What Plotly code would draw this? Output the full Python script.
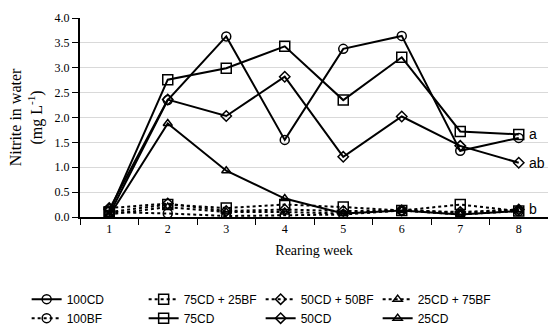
import plotly.graph_objects as go

weeks = ["1", "2", "3", "4", "5", "6", "7", "8"]

cd100 = [0.05, 2.35, 3.63, 1.55, 3.38, 3.64, 1.33, 1.59]
cd75bf25 = [0.10, 0.25, 0.18, 0.25, 0.20, 0.13, 0.25, 0.12]
cd50bf50 = [0.18, 0.27, 0.12, 0.15, 0.12, 0.13, 0.10, 0.15]
cd25bf75 = [0.05, 0.20, 0.10, 0.10, 0.07, 0.15, 0.08, 0.15]
bf100 = [0.10, 0.07, 0.02, 0.03, 0.05, 0.13, 0.05, 0.12]
cd75 = [0.10, 2.76, 2.99, 3.43, 2.35, 3.21, 1.72, 1.66]
cd50 = [0.15, 2.36, 2.03, 2.82, 1.21, 2.02, 1.43, 1.09]
cd25 = [0.02, 1.88, 0.93, 0.37, 0.07, 0.13, 0.05, 0.12]

series = [
    ("100CD", cd100, "solid", "circle-open"),
    ("75CD + 25BF", cd75bf25, "dot", "square-open"),
    ("50CD + 50BF", cd50bf50, "dot", "diamond-open"),
    ("25CD + 75BF", cd25bf75, "dot", "triangle-up-open"),
    ("100BF", bf100, "dot", "circle-open"),
    ("75CD", cd75, "solid", "square-open"),
    ("50CD", cd50, "solid", "diamond-open"),
    ("25CD", cd25, "solid", "triangle-up-open"),
]
sizes = {"circle-open": 9, "square-open": 10, "diamond-open": 8, "triangle-up-open": 8}

sig_labels = ["a", "ab", "b"]
sig_y = [1.66, 1.09, 0.17]

fig = go.Figure()
# dotted first so solid lines are drawn on top
order = [1, 2, 3, 4, 0, 5, 6, 7]
for i in order:
    name, vals, dash, sym = series[i]
    fig.add_trace(go.Scatter(
        x=weeks, y=vals, name=name, mode="lines+markers",
        legendrank=i + 1,
        line=dict(color="black", width=2, dash=dash),
        marker=dict(symbol=sym, size=sizes[sym], color="black",
                    line=dict(color="black", width=1.5)),
    ))

for lab, yv in zip(sig_labels, sig_y):
    fig.add_annotation(x=len(weeks) - 1, y=yv, text=lab, showarrow=False,
                       xref="x", yref="y",
                       xanchor="left", xshift=8,
                       font=dict(family="Liberation Sans", size=14, color="black"))

fig.update_layout(
    width=548, height=334,
    margin=dict(l=80, r=0, t=18, b=117, autoexpand=False),
    plot_bgcolor="white", paper_bgcolor="white",
    showlegend=True,
    legend=dict(orientation="h", x=-0.114, xanchor="left", y=-0.34, yanchor="top",
                entrywidth=72, entrywidthmode="pixels",
                font=dict(family="Liberation Sans", size=12, color="black"),
                tracegroupgap=0),
    font=dict(family="Liberation Serif", size=12, color="black"),
)
fig.update_xaxes(
    type="category", range=[-0.5, 7.5],
    showline=True, linecolor="black", linewidth=2,
    ticks="outside", ticklen=6, tickcolor="black", tickson="boundaries",
    showgrid=False,
    title=dict(text="Rearing week", font=dict(family="Liberation Serif", size=14), standoff=10),
    tickfont=dict(family="Liberation Serif", size=12),
)
fig.update_yaxes(
    range=[0, 4.0], dtick=0.5, tickformat=".1f",
    showline=True, linecolor="black", linewidth=2,
    ticks="outside", ticklen=6, tickcolor="black",
    showgrid=True, gridcolor="#d9d9d9", gridwidth=1,
    zeroline=False,
    title=dict(text="Nitrite in water<br>(mg L<sup>-1</sup>)",
               font=dict(family="Liberation Serif", size=16), standoff=8),
    tickfont=dict(family="Liberation Serif", size=12),
)

fig.write_html("out.html", config={"displayModeBar": False},
               post_script="document.body.style.margin='0';document.body.style.overflow='hidden';")
